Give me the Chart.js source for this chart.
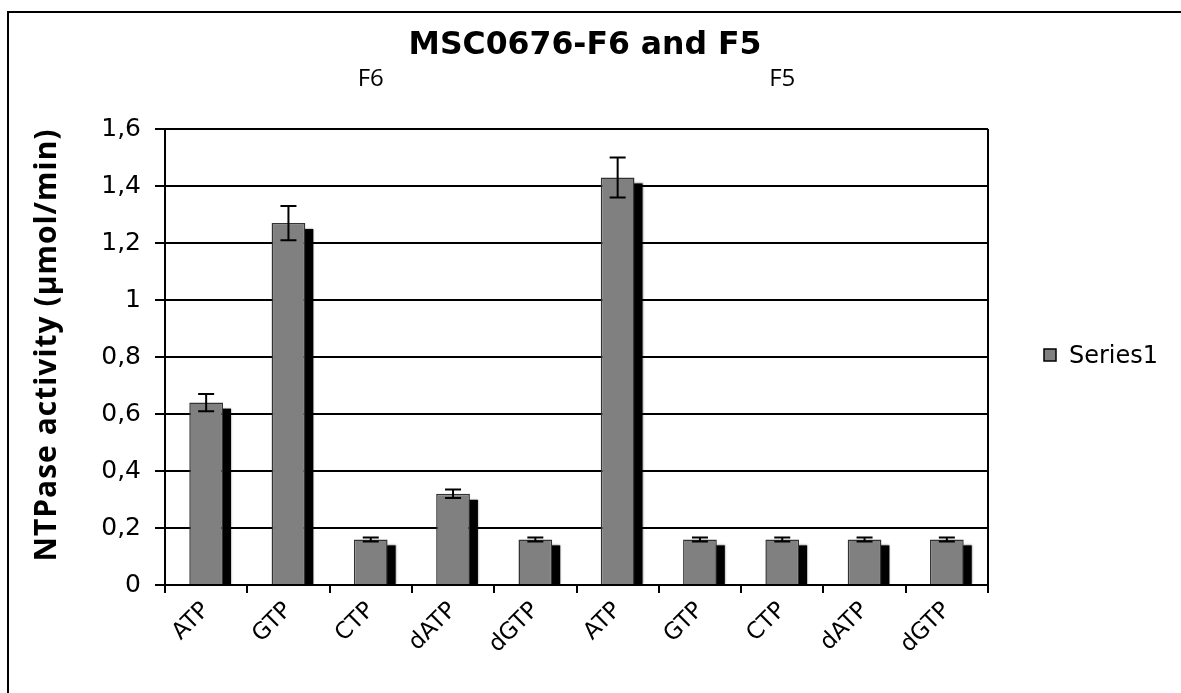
<!DOCTYPE html>
<html>
<head>
<meta charset="utf-8">
<script src="https://cdn.jsdelivr.net/npm/chart.js@4"></script>
<style>
html,body{margin:0;padding:0;background:#fff;}
#wrap{position:relative;width:1181px;height:693px;overflow:hidden;}
#frame{position:absolute;left:7px;top:11px;width:1200px;height:700px;border-left:2px solid #000;border-top:2px solid #000;}
canvas{position:absolute;left:0;top:0;}
</style>
</head>
<body>
<div id="wrap"><div id="frame"></div><canvas id="c" width="1181" height="693"></canvas></div>
<script>
const categories = ["ATP","GTP","CTP","dATP","dGTP","ATP","GTP","CTP","dATP","dGTP"];
const groupLabels = ["F6","F5"];
const series1 = [0.64,1.27,0.16,0.32,0.16,1.43,0.16,0.16,0.16,0.16];
const errors = [0.03,0.06,0.007,0.015,0.007,0.07,0.007,0.007,0.007,0.007];
const yTicks = [0,0.2,0.4,0.6,0.8,1,1.2,1.4,1.6];
const titleText = "MSC0676-F6 and F5";
const yTitle = "NTPase activity (µmol/min)";
const seriesName = "Series1";

const PLOT = {left:165, right:988, top:129, bottom:585};

const shadowPlugin = {
  id:'shadow',
  beforeDatasetsDraw(chart){
    const ctx = chart.ctx;
    const meta = chart.getDatasetMeta(0);
    ctx.save();
    ctx.fillStyle = '#000';
    ctx.shadowColor = 'rgba(0,0,0,0.5)';
    ctx.shadowBlur = 2;
    meta.data.forEach(el=>{
      const p = el.getProps(['x','y','base','width'],true);
      const xr = p.x + p.width/2;
      ctx.fillRect(xr-1, p.y+6, 9, p.base - p.y - 6);
    });
    ctx.restore();
  }
};

const errPlugin = {
  id:'errbars',
  afterDatasetsDraw(chart){
    const ctx = chart.ctx, ys = chart.scales.y;
    const meta = chart.getDatasetMeta(0);
    ctx.save();
    ctx.strokeStyle = '#000';
    ctx.lineWidth = 2;
    meta.data.forEach((el,i)=>{
      const v = series1[i], e = errors[i];
      const x = el.x;
      const y1 = ys.getPixelForValue(v+e), y2 = ys.getPixelForValue(v-e);
      ctx.beginPath();
      ctx.moveTo(x,y1); ctx.lineTo(x,y2);
      ctx.moveTo(x-8,y1); ctx.lineTo(x+8,y1);
      ctx.moveTo(x-8,y2); ctx.lineTo(x+8,y2);
      ctx.stroke();
    });
    ctx.restore();
  }
};

const decoPlugin = {
  id:'deco',
  afterDraw(chart){
    const ctx = chart.ctx, a = chart.chartArea;
    ctx.save();
    ctx.strokeStyle='#000'; ctx.lineWidth=2;
    ctx.beginPath(); ctx.moveTo(a.right,a.top); ctx.lineTo(a.right,a.bottom); ctx.stroke();
    ctx.fillStyle='#000';
    ctx.textAlign='center'; ctx.textBaseline='middle';
    ctx.font='bold 31.5px "DejaVu Sans"';
    ctx.fillText(titleText, 585, 46);
    ctx.font='24px "Open Sans"';
    const xs = chart.scales.x;
    const g1 = (xs.getPixelForValue(0)+xs.getPixelForValue(4))/2;
    const g2 = (xs.getPixelForValue(5)+xs.getPixelForValue(9))/2;
    ctx.fillText(groupLabels[0], g1, 79);
    ctx.fillText(groupLabels[1], g2, 79);
    ctx.save();
    ctx.translate(47, 345);
    ctx.rotate(-Math.PI/2);
    ctx.font='bold 30px "Open Sans"';
    try { ctx.letterSpacing = '1px'; } catch(e) {}
    ctx.fillText(yTitle, 0, 0);
    ctx.restore();
    ctx.fillStyle='#808080'; ctx.strokeStyle='#000'; ctx.lineWidth=1.5;
    ctx.fillRect(1044,349,12,12); ctx.strokeRect(1044,349,12,12);
    ctx.fillStyle='#000'; ctx.textAlign='left';
    ctx.font='24px "DejaVu Sans"';
    ctx.fillText(seriesName, 1069, 357);
    ctx.restore();
  }
};

new Chart(document.getElementById('c'), {
  type:'bar',
  data:{
    labels:categories,
    datasets:[{
      label:seriesName,
      data:series1,
      backgroundColor:'#808080',
      borderColor:'#333333',
      borderWidth:1.5,
      barPercentage:0.82,
      categoryPercentage:0.5
    }]
  },
  options:{
    responsive:false,
    animation:false,
    devicePixelRatio:1,
    layout:{padding:{left:0,top:PLOT.top,right:1181-PLOT.right,bottom:0}},
    plugins:{legend:{display:false},title:{display:false},tooltip:{enabled:false}},
    scales:{
      x:{
        offset:true,
        afterFit(s){ s.height = 693-PLOT.bottom; },
        grid:{display:true,drawOnChartArea:false,drawTicks:true,tickLength:8,color:'#000',lineWidth:2,offset:true},
        border:{display:true,color:'#000',width:2},
        ticks:{color:'#000',font:{family:'DejaVu Sans',size:23},maxRotation:45,minRotation:45,padding:4,autoSkip:false}
      },
      y:{
        min:0,max:1.6,
        afterFit(s){ s.width = PLOT.left; },
        afterBuildTicks(s){ s.ticks = yTicks.map(v=>({value:v})); },
        grid:{display:true,drawOnChartArea:true,drawTicks:true,tickLength:10,color:'#000',lineWidth:2},
        border:{display:true,color:'#000',width:2},
        ticks:{color:'#000',font:{family:'DejaVu Sans',size:25},padding:14,
          callback:(v)=>String(v).replace('.',',')}
      }
    }
  },
  plugins:[shadowPlugin,errPlugin,decoPlugin]
});
</script>
</body>
</html>
